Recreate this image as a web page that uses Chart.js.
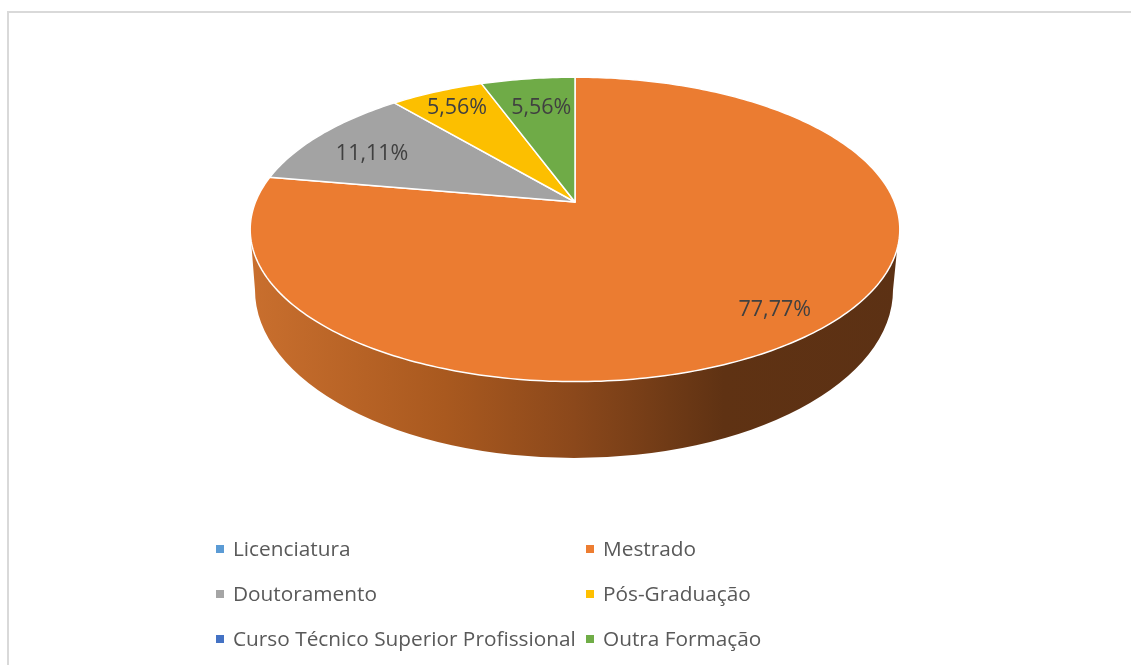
<!DOCTYPE html>
<html>
<head>
<meta charset="utf-8">
<script src="https://cdn.jsdelivr.net/npm/chart.js@4/dist/chart.umd.min.js"></script>
<style>
    html, body { margin: 0; padding: 0; background: #ffffff; overflow: hidden; }
    #wrap { position: relative; width: 1131px; height: 665px; }
    #frame { position: absolute; left: 7px; top: 11px; right: 0; bottom: 0; border-top: 2px solid #d9d9d9; border-left: 2px solid #d9d9d9; }
    canvas { position: absolute; left: 0; top: 0; }
    .item { position: absolute; font: 20.8px "Open Sans", sans-serif; color: #595959; white-space: nowrap; line-height: 28px; }
    .swatch { position: absolute; width: 8px; height: 8px; }
</style>
</head>
<body>
<div id="wrap">
    <div id="frame"></div>
    <canvas id="chart" width="1131" height="665"></canvas>
    <div id="legend"></div>
</div>
<script>
const categories = ["Licenciatura", "Mestrado", "Doutoramento", "Pós-Graduação", "Curso Técnico Superior Profissional", "Outra Formação"];
const values = [0, 77.77, 11.11, 5.56, 0, 5.56];
const valueLabels = ["", "77,77%", "11,11%", "5,56%", "", "5,56%"];
const colors = ["#5b9bd5", "#ed7d31", "#a5a5a5", "#ffc000", "#4472c4", "#70ad47"];
const topColors = ["#5b9bd5", "#eb7c31", "#a3a3a3", "#fcbf00", "#4472c4", "#6fab47"];
const labelRadius = [0, 0.85, 0.76, 0.85, 0, 0.75];
const labelOffset = [[0, 0], [2, -1], [-6, 4], [2, 2], [0, 0], [3, 2]];
const legendRows = [[233, 548], [603, 548], [233, 593], [603, 593], [233, 638], [603, 638]];

// squash the flat pie into the tilted view, nearer edge comes out bigger
const tilt = 0.461;
const perspective = 0.18;

function project(arc, angle, t) {
    const d = 1 - perspective * Math.sin(angle) * t;
    return {
        x: arc.x + arc.outerRadius * Math.cos(angle) * t / d,
        y: arc.y + arc.outerRadius * tilt * Math.sin(angle) * t / d
    };
}

function drawRim(ctx, arc) {
    const gradient = ctx.createLinearGradient(250, 0, 899, 0);
    gradient.addColorStop(0, "#c96f2e");
    gradient.addColorStop(0.3, "#a9591f");
    gradient.addColorStop(0.5, "#8b481b");
    gradient.addColorStop(0.73, "#5f3213");
    gradient.addColorStop(1, "#5c3114");
    ctx.beginPath();
    ctx.moveTo(251, 240);
    ctx.lineTo(255, 290);
    ctx.ellipse(arc.x - 1, 290, 319, 168, 0, Math.PI, 0, true);
    ctx.lineTo(898, 240);
    ctx.closePath();
    ctx.fillStyle = gradient;
    ctx.fill();
}

const tiltedPie = {
    id: "tiltedPie",
    beforeDatasetsDraw(chart) {
        const ctx = chart.ctx;
        const arcs = chart.getDatasetMeta(0).data;
        ctx.save();
        drawRim(ctx, arcs[0]);
        arcs.forEach((arc, i) => {
            if (values[i] === 0) return;
            ctx.beginPath();
            ctx.moveTo(arc.x, arc.y);
            const steps = Math.ceil((arc.endAngle - arc.startAngle) * 60);
            for (let s = 0; s <= steps; s++) {
                const p = project(arc, arc.startAngle + (arc.endAngle - arc.startAngle) * s / steps, 1);
                ctx.lineTo(p.x, p.y);
            }
            ctx.closePath();
            ctx.fillStyle = topColors[i];
            ctx.fill();
            ctx.strokeStyle = "#ffffff";
            ctx.lineWidth = 1.5;
            ctx.lineJoin = "round";
            ctx.stroke();
        });
        ctx.font = '21.5px "Open Sans", sans-serif';
        ctx.fillStyle = "#404040";
        ctx.textAlign = "center";
        ctx.textBaseline = "middle";
        arcs.forEach((arc, i) => {
            if (values[i] === 0) return;
            const p = project(arc, (arc.startAngle + arc.endAngle) / 2, labelRadius[i]);
            ctx.fillText(valueLabels[i], p.x + labelOffset[i][0], p.y + labelOffset[i][1]);
        });
        ctx.restore();
        return false;
    }
};

new Chart(document.getElementById("chart"), {
    type: "pie",
    data: {
        labels: categories,
        datasets: [{
            data: values,
            backgroundColor: colors
        }]
    },
    options: {
        responsive: false,
        animation: false,
        radius: 319.5,
        layout: {
            padding: { left: 19, bottom: 261 }
        },
        plugins: {
            legend: { display: false },
            tooltip: { enabled: false }
        }
    },
    plugins: [tiltedPie]
});

const legend = document.getElementById("legend");
categories.forEach((name, i) => {
    const swatch = document.createElement("div");
    swatch.className = "swatch";
    swatch.style.left = (legendRows[i][0] - 17) + "px";
    swatch.style.top = (legendRows[i][1] - 3) + "px";
    swatch.style.background = colors[i];
    legend.appendChild(swatch);

    const item = document.createElement("div");
    item.className = "item";
    item.style.left = legendRows[i][0] + "px";
    item.style.top = (legendRows[i][1] - 14) + "px";
    item.textContent = name;
    legend.appendChild(item);
});
</script>
</body>
</html>
